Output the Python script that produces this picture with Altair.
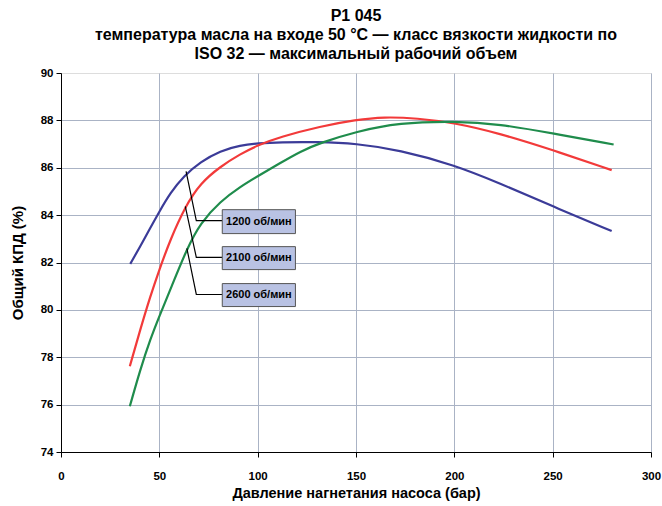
import altair as alt
import pandas as pd

# Curves
x_1200 = [35.2, 40.3, 45.4, 50, 55.6, 62.4, 70.9, 81, 91.2, 100, 111.5, 130, 150, 172, 200, 223, 250, 280]
y_1200 = [81.94, 82.68, 83.46, 84.15, 84.94, 85.65, 86.25, 86.72, 86.95, 87.03, 87.08, 87.09, 87.03, 86.75, 86.12, 85.35, 84.37, 83.33]

x_2100 = [35, 40.3, 45.4, 50, 55.6, 63.2, 70.9, 81, 91.2, 100, 111.5, 131.9, 150, 164, 181, 200, 223, 250, 280]
y_2100 = [77.62, 79.17, 80.57, 81.7, 82.97, 84.37, 85.35, 86.05, 86.58, 86.95, 87.3, 87.75, 88.02, 88.15, 88.09, 87.9, 87.45, 86.75, 85.9]

x_2600 = [35, 40.3, 45.4, 50, 55.6, 64.1, 70.9, 81, 91.2, 100, 111.5, 121.7, 131.9, 150, 172, 200, 223, 250, 281]
y_2600 = [75.93, 77.48, 78.76, 79.73, 80.86, 82.6, 83.67, 84.58, 85.2, 85.64, 86.2, 86.69, 87.05, 87.53, 87.9, 87.97, 87.85, 87.45, 86.98]

series = ["1200 об/мин", "2100 об/мин", "2600 об/мин"]
colors = ["#3b3b98", "#f23a3a", "#1f8c4c"]

# Callout boxes (data coordinates)
box_x1 = [82.0, 82.0, 82.0]
box_x2 = [119.2, 119.2, 119.2]
box_y1 = [84.23, 82.67, 81.11]
box_y2 = [83.22, 81.70, 80.14]

# Leader lines: start on curve, bend, end at box
lead_x = [[63.6, 68.8, 82.0], [63.2, 68.8, 82.0], [64.0, 68.8, 82.0]]
lead_y = [[85.85, 83.77, 83.77], [84.37, 82.22, 82.22], [82.6, 80.65, 80.65]]

title_lines = [
    "P1 045",
    "температура масла на входе 50 °C — класс вязкости жидкости по",
    "ISO 32 — максимальный рабочий объем",
]
x_title = "Давление нагнетания насоса (бар)"
y_title = "Общий КПД (%)"
x_ticks = [0, 50, 100, 150, 200, 250, 300]
y_ticks = [74, 76, 78, 80, 82, 84, 86, 88, 90]

FONT = "Liberation Sans"

rows = []
for name, xs, ys in zip(series, [x_1200, x_2100, x_2600], [y_1200, y_2100, y_2600]):
    for i, (a, b) in enumerate(zip(xs, ys)):
        rows.append({"s": name, "x": a, "y": b, "o": i})
curves = pd.DataFrame(rows)

boxes = pd.DataFrame({"s": series, "x1": box_x1, "x2": box_x2, "y1": box_y1, "y2": box_y2})
boxes["xm"] = (boxes["x1"] + boxes["x2"]) / 2
boxes["ym"] = (boxes["y1"] + boxes["y2"]) / 2

lrows = []
for name, xs, ys in zip(series, lead_x, lead_y):
    for i, (a, b) in enumerate(zip(xs, ys)):
        lrows.append({"s": name, "x": a, "y": b, "o": i})
leads = pd.DataFrame(lrows)

xscale = alt.Scale(domain=[0, 300], nice=False, zero=False)
yscale = alt.Scale(domain=[74, 90], nice=False, zero=False)

xaxis = alt.Axis(
    values=x_ticks, title=x_title, grid=True, gridColor="#aab3c5", gridWidth=1,
    domainColor="#000000", tickColor="#000000", tickSize=5,
    labelFont=FONT, labelFontSize=11.5, labelFontWeight="bold", labelColor="#000000",
    labelPadding=13, titleFont=FONT, titleFontSize=14.5, titleFontWeight="bold",
    titleColor="#000000", titlePadding=5, labelFlush=False,
)
yaxis = alt.Axis(
    values=y_ticks, title=y_title, grid=True, gridColor="#aab3c5", gridWidth=1,
    gridOpacity={"condition": {"test": "datum.value === 90", "value": 0}, "value": 1},
    domainColor="#000000", tickColor="#000000", tickSize=5,
    labelFont=FONT, labelFontSize=11.5, labelFontWeight="bold", labelColor="#000000",
    labelPadding=3, titleFont=FONT, titleFontSize=15, titleFontWeight="bold",
    titleColor="#000000", titlePadding=15,
)

lines = alt.Chart(curves).mark_line(strokeWidth=2.2, interpolate="basis").encode(
    x=alt.X("x:Q", scale=xscale, axis=xaxis),
    y=alt.Y("y:Q", scale=yscale, axis=yaxis),
    color=alt.Color("s:N", scale=alt.Scale(domain=series, range=colors), legend=None),
    order="o:Q",
)

leader = alt.Chart(leads).mark_line(color="#000000", strokeWidth=1.2).encode(
    x="x:Q", y="y:Q", detail="s:N", order="o:Q",
)

rect = alt.Chart(boxes).mark_rect(fill="#b9c2e3", stroke="#555555", strokeWidth=1).encode(
    x="x1:Q", x2="x2:Q", y="y1:Q", y2="y2:Q",
)

txt = alt.Chart(boxes).mark_text(
    font=FONT, fontSize=11, fontWeight="bold", color="#000000", align="center", baseline="middle",
).encode(x="xm:Q", y="ym:Q", text="s:N")

chart = alt.layer(lines, leader, rect, txt).properties(
    width=590, height=379,
    title=alt.TitleParams(
        text=title_lines, font=FONT, fontSize=16, fontWeight="bold", color="#000000",
        anchor="middle", offset=5, lineHeight=19,
    ),
    autosize="none",
    padding={"left": 61, "top": 73, "right": 11, "bottom": 54},
).configure_view(stroke=None).configure(background="#ffffff")

chart.save("out.html", embed_options={"renderer": "svg", "actions": False})
